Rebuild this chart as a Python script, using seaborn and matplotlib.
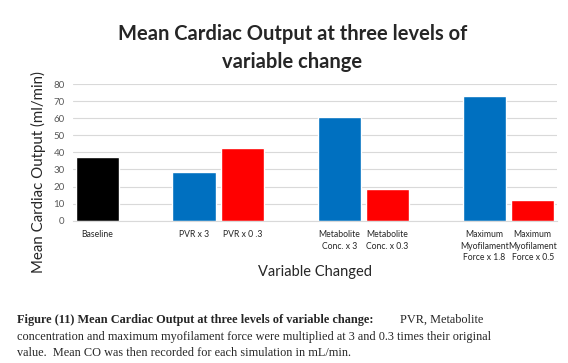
import matplotlib
matplotlib.use('Agg')
import matplotlib.pyplot as plt
import seaborn as sns
import pandas as pd

# chart data
categories = ['Baseline', 'PVR x 3', 'PVR x 0 .3',
              'Metabolite\nConc. x 3', 'Metabolite\nConc. x 0.3',
              'Maximum\nMyofilament\nForce x 1.8', 'Maximum\nMyofilament\nForce x 0.5']
cardiac_output = [37, 28.5, 42.5, 60.5, 18.5, 73, 12.3]
bar_group = ['base', 'up', 'down', 'up', 'down', 'up', 'down']
y_ticks = [0, 10, 20, 30, 40, 50, 60, 70, 80]

# empty slots between the groups
order = ['Baseline', 'gap1', 'PVR x 3', 'PVR x 0 .3', 'gap2',
         'Metabolite\nConc. x 3', 'Metabolite\nConc. x 0.3', 'gap3',
         'Maximum\nMyofilament\nForce x 1.8', 'Maximum\nMyofilament\nForce x 0.5']

df = pd.DataFrame({'cat': categories, 'co': cardiac_output, 'grp': bar_group})
colors = {'base': '#000000', 'up': '#0070C0', 'down': '#FF0000'}

sns.set_style('white')
plt.rcParams['font.family'] = ['Lato', 'DejaVu Sans']

fig = plt.figure(figsize=(5.68, 3.63), dpi=100)
ax = fig.add_axes([0.1285, 0.392, 0.852, 0.3765])

sns.barplot(data=df, x='cat', y='co', hue='grp', order=order, palette=colors,
            width=0.89, dodge=False, legend=False, saturation=1, ax=ax)

ax.set_xlim(-0.5, len(order) - 0.5)
ax.set_ylim(0, 80)
ax.set_yticks(y_ticks)
ax.tick_params(axis='y', labelsize=7, labelcolor='#595959', length=0, pad=6)
ax.set_xticks(range(len(order)))
ax.set_xticklabels(['' if o.startswith('gap') else o for o in order],
                   fontsize=6.2, linespacing=1.3)
ax.tick_params(axis='x', length=0, pad=7)
ax.grid(axis='y', color='#d9d9d9', linewidth=0.8)
ax.set_axisbelow(True)
for s in ['top', 'right', 'left']:
    ax.spines[s].set_visible(False)
ax.spines['bottom'].set_color('#d9d9d9')

ax.set_ylabel('Mean Cardiac Output (ml/min)', fontsize=10.8)
ax.yaxis.set_label_coords(-0.055, 0.356)
ax.set_xlabel('Variable Changed', fontsize=10.5)
ax.xaxis.set_label_coords(0.5, -0.325)

fig.text(0.515, 0.935, 'Mean Cardiac Output at three levels of\nvariable change',
         ha='center', va='top', fontsize=14.5, fontweight='bold', linespacing=1.55)

# caption below the chart
cap_font = ['Liberation Serif', 'DejaVu Serif']
fig.text(0.03, 0.110, 'Figure (11) Mean Cardiac Output at three levels of variable change:',
         fontsize=8.85, fontweight='bold', family=cap_font, va='baseline')
fig.text(0.705, 0.110, 'PVR, Metabolite',
         fontsize=8.85, family=cap_font, va='baseline')
fig.text(0.03, 0.063, 'concentration and maximum myofilament force were multiplied at 3 and 0.3 times their original',
         fontsize=8.85, family=cap_font, va='baseline')
fig.text(0.03, 0.018, 'value.  Mean CO was then recorded for each simulation in mL/min.',
         fontsize=8.85, family=cap_font, va='baseline')

fig.savefig('out.png', dpi=100)
